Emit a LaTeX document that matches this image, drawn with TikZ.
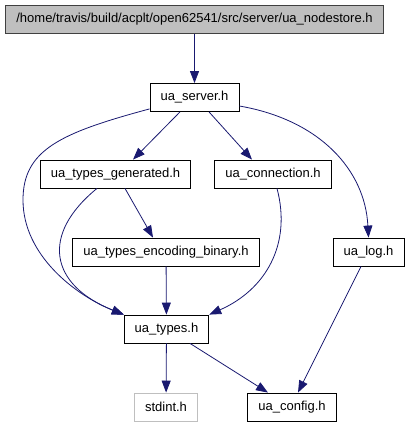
\documentclass[tikz,border=0pt]{standalone}
\usepackage{fontspec}
\setmainfont{Liberation Sans}
\usepackage{tikz}
\usetikzlibrary{arrows.meta,calc}
\definecolor{dEdge}{HTML}{191970}
\definecolor{dGray}{HTML}{BFBFBF}
\definecolor{dDark}{HTML}{404040}

\begin{document}
\begin{tikzpicture}[x=1pt, y=-1pt, font=\fontsize{13}{15}\selectfont,
  hdr/.style={draw, line width=0.8pt, inner xsep=10.5pt, minimum height=28pt, inner ysep=0pt},
  cur/.style={hdr, draw=dDark, fill=dGray}, sys/.style={hdr, draw=dGray},
  e/.style={-{Triangle[length=12pt, width=9pt]}, dEdge, line width=0.8pt}]
\useasboundingbox (0,0) rectangle (409,427);
\node[cur](store) at (194.5,19.5){/home/travis/build/acplt/open62541/src/server/ua\_nodestore.h};
\node[hdr](srv) at (194.5,97.5){ua\_server.h};
\node[hdr](gen) at (115.5,174){ua\_types\_generated.h}; \node[hdr](conn) at (273,174){ua\_connection.h};
\node[hdr](bin) at (166,252){ua\_types\_encoding\_binary.h}; \node[hdr](log) at (368.5,252){ua\_log.h};
\node[hdr](types) at (166.5,329){ua\_types.h};
\node[sys](stdint) at (166,407){stdint.h}; \node[hdr](cfg) at (292,407){ua\_config.h};
\draw[e](store)--(srv);
\draw[e]([xshift=-14.5pt]srv.south)--([xshift=17.5pt]gen.north);
\draw[e]([xshift=14.5pt]srv.south)--([xshift=-21pt]conn.north);
\draw[e]([yshift=3pt]srv.south west) .. controls (60,133) and (23,150) .. (23,200)
  .. controls (23,255) and (75,295) .. (types.north west);
\draw[e]([xshift=-18.5pt]gen.south) .. controls (40,235) and (50,285) .. (types.north west);
\draw[e]([xshift=9.5pt]gen.south)--([xshift=-13pt]bin.north);
\draw[e]([yshift=-8.5pt]srv.east) .. controls (320,120) and (365,170) .. (log.north);
\draw[e]([xshift=4pt]conn.south) .. controls (292,245) and (265,290) .. (types.north east);
\draw[e](bin)--(types);
\draw[e]([xshift=-7.5pt]log.south)--([xshift=6pt]cfg.north);
\draw[e](types)--(stdint);
\draw[e]([xshift=23.5pt]types.south)--([xshift=-24pt]cfg.north);
\end{tikzpicture}
\end{document}
